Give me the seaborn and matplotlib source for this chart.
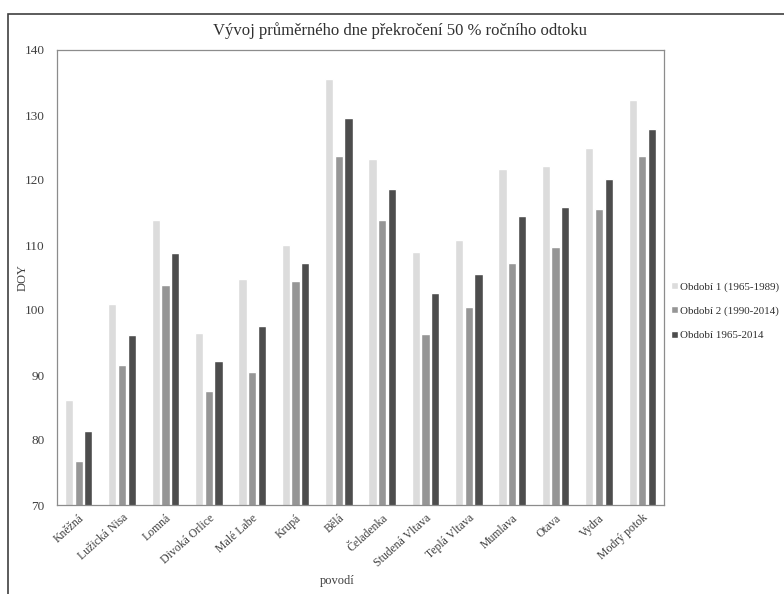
import matplotlib
matplotlib.use("Agg")
import matplotlib.pyplot as plt
from matplotlib.patches import Rectangle
import seaborn as sns
import pandas as pd

categories = ["Kněžná", "Lužická Nisa", "Lomná", "Divoká Orlice", "Malé Labe", "Krupá",
              "Bělá", "Čeladenka", "Studená Vltava", "Teplá Vltava", "Mumlava", "Otava",
              "Vydra", "Modrý potok"]
period1 = [86.2, 100.9, 113.9, 96.5, 104.8, 110.0, 135.5, 123.2, 109.0, 110.7, 121.7, 122.1, 124.9, 132.3]
period2 = [76.7, 91.5, 103.8, 87.6, 90.4, 104.5, 123.7, 113.9, 96.3, 100.5, 107.3, 109.7, 115.6, 123.7]
period_all = [81.4, 96.2, 108.8, 92.1, 97.5, 107.2, 129.5, 118.6, 102.6, 105.5, 114.5, 115.9, 120.2, 127.9]
series_names = ["Období 1 (1965-1989)", "Období 2 (1990-2014)", "Období 1965-2014"]
colors = ["#dcdcdc", "#969696", "#4d4d4d"]

df = pd.DataFrame({
    "povodí": categories * 3,
    "DOY": period1 + period2 + period_all,
    "období": [s for s in series_names for _ in categories],
})

sns.set_theme(style="white")
plt.rcParams["font.family"] = ["Liberation Serif", "DejaVu Serif"]

fig = plt.figure(figsize=(7.84, 5.94), dpi=100)
ax = fig.add_axes([57 / 784, 1 - 505 / 594, (664 - 57) / 784, (505 - 50) / 594])

sns.barplot(data=df, x="povodí", y="DOY", hue="období", palette=colors,
            width=0.67, gap=0.15, ax=ax, saturation=1, legend=True)

ax.set_ylim(70, 140)
ax.set_yticks(range(70, 141, 10))
ax.tick_params(axis="both", length=0, colors="#404040")
ax.tick_params(axis="y", labelsize=9.5, pad=9)
ax.tick_params(axis="x", labelsize=8.5, pad=5)
ax.set_xticks(range(len(categories)))
ax.set_xticklabels(categories, rotation=42, ha="right", rotation_mode="anchor")

for sp in ax.spines.values():
    sp.set_visible(True)
    sp.set_color("#8c8c8c")
    sp.set_linewidth(0.9)

ax.set_ylabel("DOY", fontsize=9, color="#404040")
ax.yaxis.set_label_coords(-28 / 607, 0.5)
ax.set_xlabel("povodí", fontsize=9, color="#404040")
ax.xaxis.set_label_coords((337 - 57) / 607, -70 / 455)

fig.text(400 / 784, 1 - 31 / 594, "Vývoj průměrného dne překročení 50 % ročního odtoku",
         ha="center", va="center", fontsize=12, color="#303030")

handles, labels = ax.get_legend_handles_labels()
ax.legend(handles, labels, loc="upper left", bbox_to_anchor=(671 / 784, 1 - 282 / 594),
          bbox_transform=fig.transFigure, frameon=False, fontsize=7.9,
          handlelength=0.6, handleheight=0.6, handletextpad=0.2,
          labelspacing=1.35, borderaxespad=0, borderpad=0, labelcolor="#303030")

# outer chart frame
fig.add_artist(Rectangle((8 / 784, -0.05), 1.1, 1.05 - 14 / 594,
                         transform=fig.transFigure, fill=False,
                         edgecolor="#404040", linewidth=1.2))

fig.savefig("out.png", dpi=100)
